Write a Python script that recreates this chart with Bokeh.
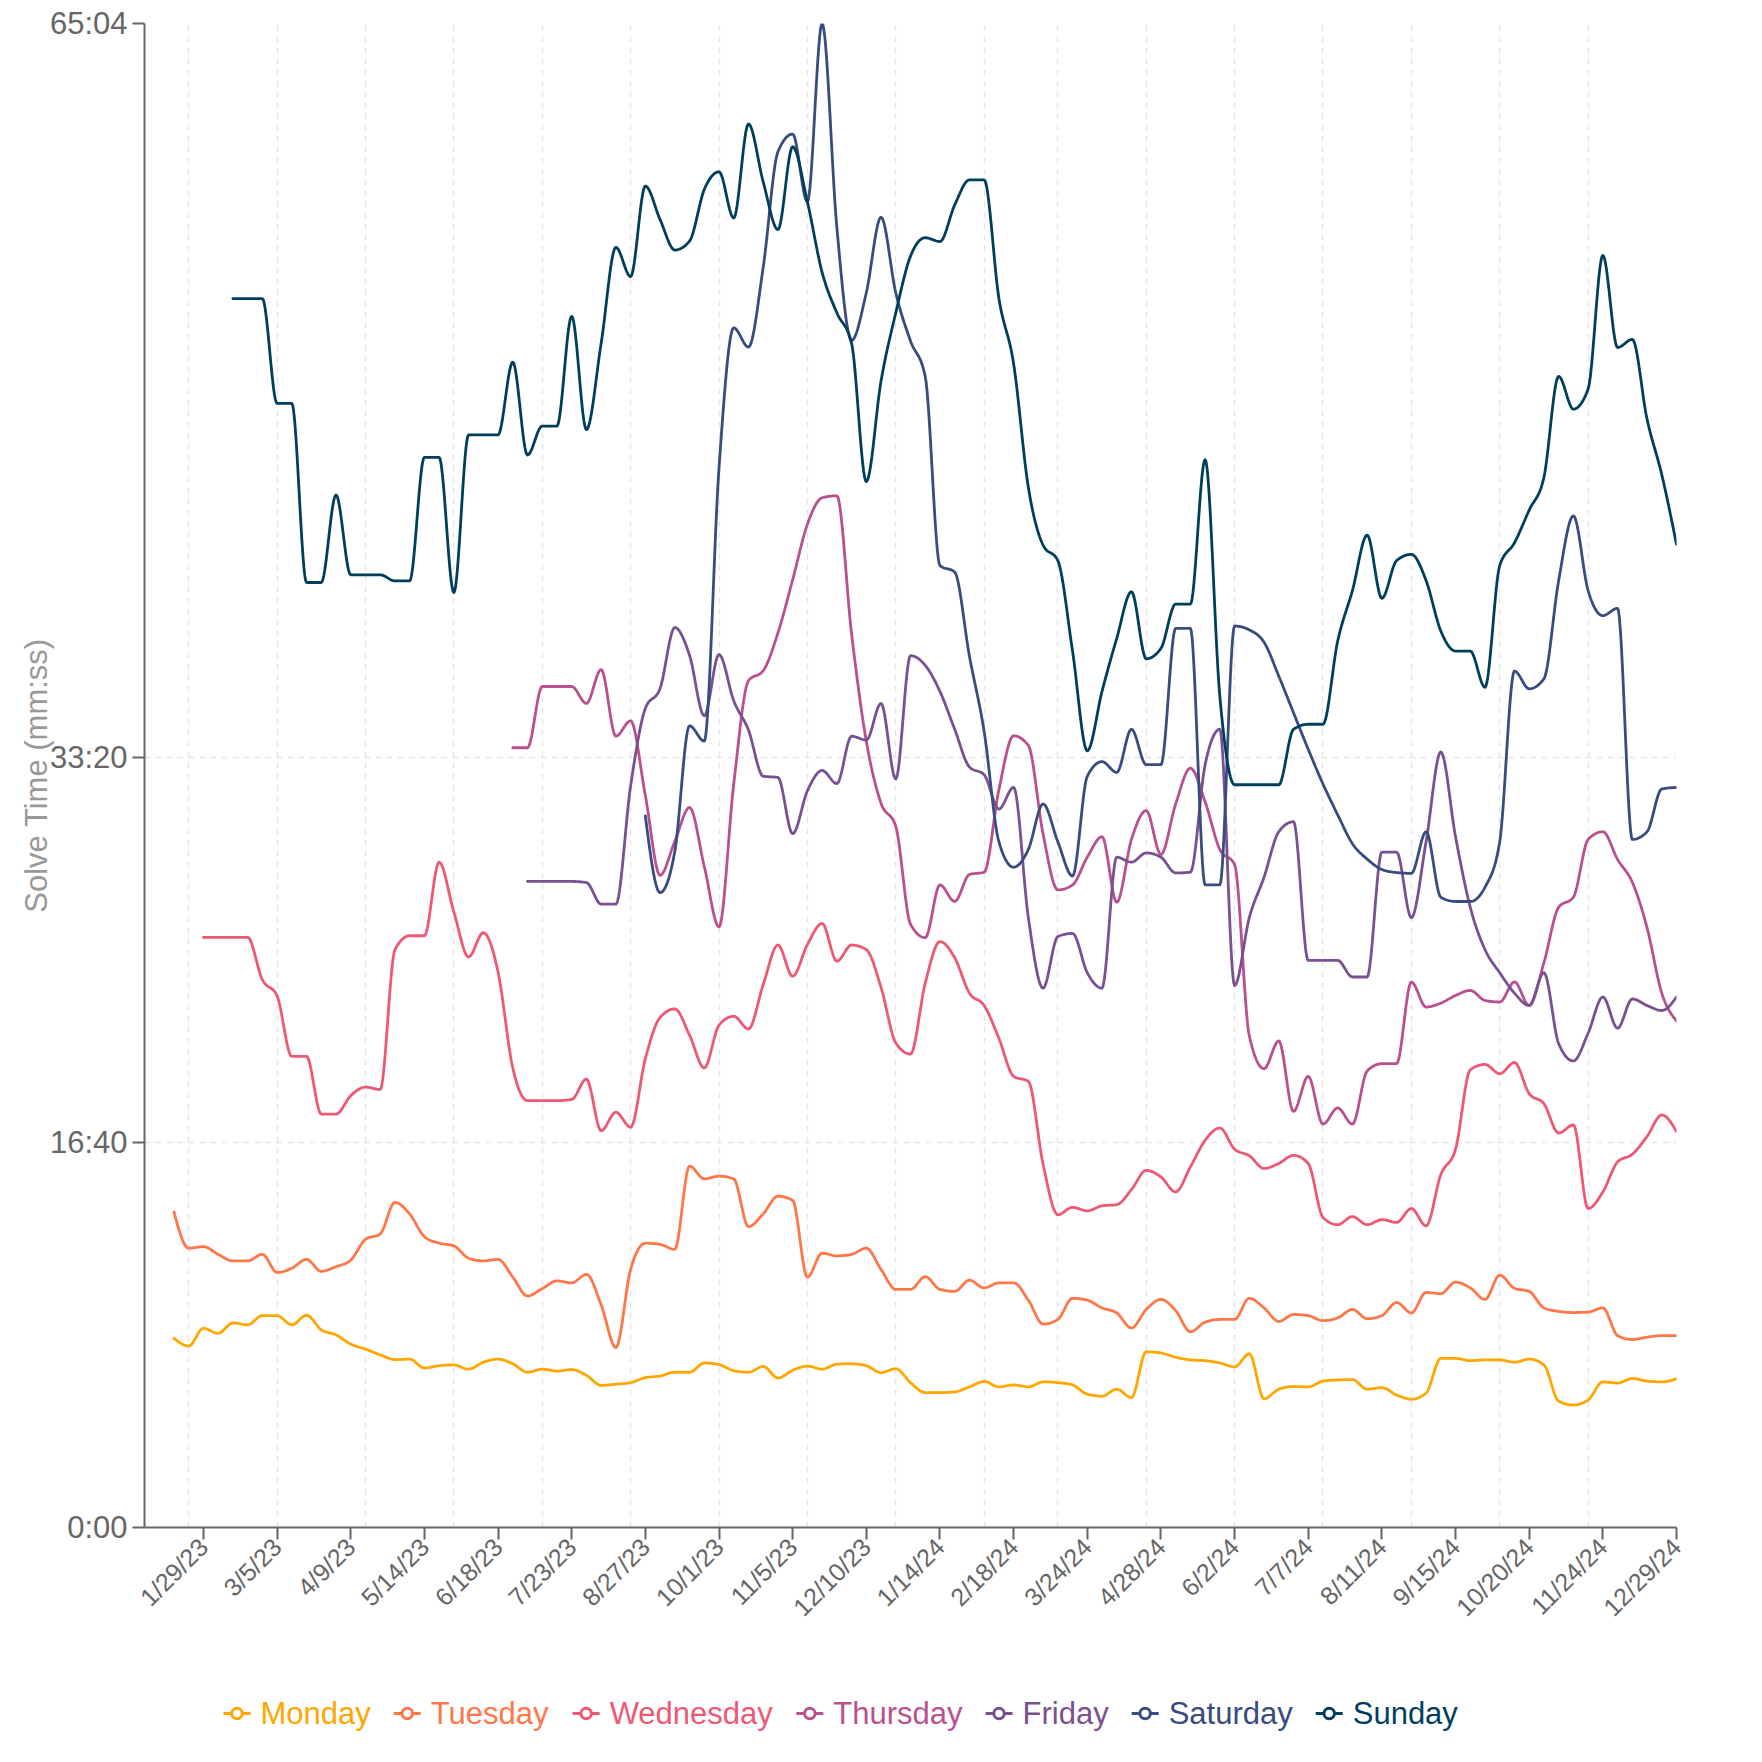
import numpy as np
import pandas as pd
from bokeh.plotting import figure
from bokeh.layouts import column
from bokeh.models import FixedTicker, Range1d
from bokeh.core.properties import value
from bokeh.embed import file_html
from bokeh.resources import INLINE

# ---------------- data (seconds) ----------------
DATES = pd.date_range("2023-01-15", "2024-12-29", freq="7D")  # weekly (Sundays)
N = None

MONDAY = [491, 471, 517, 504, 531, 526, 550, 550, 526, 551, 513, 500, 476, 463, 448, 436, 437, 414, 420, 422,
          411, 429, 437, 425, 403, 411, 406, 410, 395, 369, 372, 376, 389, 393, 403, 403, 427, 423, 407, 403,
          418, 388, 408, 419, 411, 424, 425, 420, 402, 412, 376, 350, 350, 352, 365, 379, 365, 370, 365, 378,
          376, 370, 346, 341, 359, 337, 456, 453, 442, 435, 433, 427, 417, 451, 334, 359, 366, 365, 380, 383,
          384, 359, 363, 344, 333, 349, 439, 439, 433, 435, 435, 429, 437, 422, 328, 318, 331, 378, 375, 387,
          380, 378, 386]

TUESDAY = [819, 725, 729, 709, 692, 692, 709, 662, 673, 696, 665, 677, 694, 748, 762, 844, 814, 755, 738, 731,
           699, 692, 696, 650, 601, 620, 640, 635, 657, 578, 467, 670, 738, 735, 722, 938, 905, 912, 905, 781,
           814, 860, 849, 650, 712, 705, 709, 725, 670, 618, 618, 651, 618, 613, 642, 622, 635, 635, 590, 528,
           540, 595, 590, 570, 557, 518, 566, 592, 563, 508, 533, 540, 540, 595, 570, 535, 553, 550, 537, 544,
           566, 542, 550, 584, 557, 610, 607, 637, 622, 592, 655, 621, 613, 570, 561, 558, 559, 570, 498, 488,
           494, 498, 498]

WEDNESDAY = [N, N, 1532, 1532, 1532, 1532, 1422, 1380, 1223, 1223, 1073, 1073, 1121, 1143, 1137, 1500, 1536, 1536, 1727, 1598,
             1481, 1544, 1442, 1193, 1108, 1108, 1108, 1111, 1164, 1030, 1078, 1039, 1217, 1324, 1346, 1278, 1193, 1304, 1327, 1294,
             1409, 1512, 1431, 1513, 1568, 1470, 1512, 1500, 1402, 1258, 1229, 1413, 1521, 1479, 1387, 1355, 1270, 1171, 1158, 943,
             812, 831, 822, 835, 838, 877, 927, 910, 871, 936, 1005, 1037, 982, 965, 932, 945, 966, 945, 805, 786,
             807, 786, 799, 792, 828, 783, 916, 982, 1188, 1202, 1178, 1207, 1126, 1100, 1024, 1045, 828, 871, 949, 969,
             1015, 1071, 1028]

THURSDAY = [N, N, N, N, N, N, N, N, N, N, N, N, N, N, N, N, N, N, N, N,
            N, N, N, 2024, 2024, 2183, 2183, 2183, 2139, 2227, 2054, 2094, 1900, 1693, 1781, 1869, 1716, 1559, 1930, 2198,
            2224, 2322, 2460, 2604, 2673, 2678, 2320, 2041, 1880, 1820, 1566, 1531, 1668, 1625, 1695, 1701, 1915, 2055, 2030, 1800,
            1655, 1668, 1740, 1793, 1623, 1786, 1861, 1747, 1878, 1971, 1884, 1760, 1721, 1276, 1191, 1263, 1080, 1171, 1047, 1089,
            1047, 1185, 1204, 1204, 1416, 1351, 1361, 1381, 1394, 1368, 1364, 1416, 1355, 1466, 1610, 1636, 1786, 1806, 1734, 1675,
            1557, 1387, 1315]

FRIDAY = [N, N, N, N, N, N, N, N, N, N, N, N, N, N, N, N, N, N, N, N,
          N, N, N, N, 1677, 1677, 1677, 1677, 1674, 1618, 1618, 1925, 2126, 2178, 2336, 2264, 2107, 2266, 2146, 2070,
          1950, 1947, 1801, 1912, 1965, 1931, 2054, 2044, 2139, 1943, 2263, 2238, 2170, 2072, 1974, 1954, 1865, 1921, 1583, 1400,
          1534, 1542, 1440, 1400, 1740, 1727, 1751, 1740, 1699, 1701, 1980, 2072, 1407, 1583, 1688, 1806, 1832, 1472, 1472, 1472,
          1429, 1429, 1753, 1753, 1583, 1780, 2013, 1793, 1610, 1500, 1440, 1387, 1355, 1440, 1256, 1211, 1283, 1377, 1296, 1372,
          1355, 1342, 1377]

SATURDAY = [N, N, N, N, N, N, N, N, N, N, N, N, N, N, N, N, N, N, N, N,
            N, N, N, N, N, N, N, N, N, N, N, N, 1847, 1648, 1755, 2081, 2041, 2750, 3114, 3064,
            3271, 3571, 3617, 3441, 3904, 3375, 3081, 3205, 3401, 3205, 3080, 2988, 2497, 2480, 2262, 2066, 1780, 1714, 1760, 1878,
            1780, 1691, 1950, 1988, 1960, 2072, 1980, 1980, 2334, 2334, 1668, 1668, 2340, 2330, 2298, 2210, 2115, 2020, 1930, 1850,
            1775, 1735, 1708, 1700, 1698, 1806, 1636, 1625, 1625, 1662, 1780, 2223, 2177, 2203, 2458, 2626, 2432, 2367, 2386, 1786,
            1806, 1917, 1921]

SUNDAY = [N, N, N, N, 3190, 3190, 3190, 2918, 2918, 2453, 2453, 2680, 2473, 2473, 2473, 2457, 2457, 2778, 2778, 2427,
          2836, 2836, 2836, 3025, 2784, 2859, 2859, 3144, 2850, 3074, 3323, 3247, 3482, 3395, 3316, 3339, 3473, 3519, 3399, 3643,
          3493, 3369, 3584, 3441, 3258, 3153, 3074, 2715, 2976, 3153, 3300, 3348, 3338, 3433, 3498, 3498, 3191, 3021, 2700, 2550,
          2510, 2275, 2016, 2170, 2308, 2429, 2255, 2282, 2397, 2397, 2772, 2157, 1928, 1928, 1928, 1928, 2072, 2085, 2085, 2301,
          2432, 2576, 2412, 2510, 2526, 2458, 2327, 2275, 2275, 2181, 2497, 2556, 2641, 2726, 2988, 2903, 2955, 3302, 3063, 3084,
          2877, 2733, 2552]

SERIES_NAMES = ["Monday", "Tuesday", "Wednesday", "Thursday", "Friday", "Saturday", "Sunday"]
SERIES_VALUES = [MONDAY, TUESDAY, WEDNESDAY, THURSDAY, FRIDAY, SATURDAY, SUNDAY]
COLORS = ["#ffa600", "#fe7749", "#ed5974", "#ba508e", "#795192", "#384c80", "#003f5c"]

X_START = "2023-01-01"
TICK_DATES = pd.date_range("2023-01-29", "2024-12-29", freq="35D")
GRID_DATES = list(pd.date_range("2023-01-22", "2024-02-04", freq="42D")) + \
             list(pd.date_range("2024-03-10", "2024-12-29", freq="42D"))
Y_TICKS = [0, 1000, 2000]

# ---------------- helpers ----------------
EPOCH = pd.Timestamp("1970-01-01")


def to_day(d):
    return int((pd.Timestamp(d) - EPOCH).days)


def mmss(s):
    s = int(round(s))
    return f"{s // 60}:{s % 60:02d}"


def monotone_x(xs, ys, samples=18):
    """d3.curveMonotoneX rendered as a dense polyline."""
    xs = np.asarray(xs, float)
    ys = np.asarray(ys, float)
    n = len(xs)
    if n < 3:
        return xs, ys
    h = np.diff(xs)
    s = np.diff(ys) / h
    t = np.zeros(n)
    for i in range(1, n - 1):
        p = (s[i - 1] * h[i] + s[i] * h[i - 1]) / (h[i - 1] + h[i])
        sg = (1 if s[i - 1] >= 0 else -1) + (1 if s[i] >= 0 else -1)
        t[i] = sg * min(abs(s[i - 1]), abs(s[i]), 0.5 * abs(p))
    t[0] = (3 * s[0] - t[1]) / 2
    t[-1] = (3 * s[-1] - t[-2]) / 2
    u = np.linspace(0, 1, samples)[:-1]
    ox, oy = [], []
    for i in range(n - 1):
        x0, x1, y0, y1 = xs[i], xs[i + 1], ys[i], ys[i + 1]
        dx = (x1 - x0) / 3
        px = [x0, x0 + dx, x1 - dx, x1]
        py = [y0, y0 + dx * t[i], y1 - dx * t[i + 1], y1]
        b0, b1, b2, b3 = (1 - u) ** 3, 3 * (1 - u) ** 2 * u, 3 * (1 - u) * u ** 2, u ** 3
        ox.extend(b0 * px[0] + b1 * px[1] + b2 * px[2] + b3 * px[3])
        oy.extend(b0 * py[0] + b1 * py[1] + b2 * py[2] + b3 * py[3])
    ox.append(xs[-1])
    oy.append(ys[-1])
    return np.array(ox), np.array(oy)


x_days = [to_day(d) for d in DATES]
y_max = max(v for ser in SERIES_VALUES for v in ser if v is not None)

FONT = "Liberation Sans"
W = 1746
BL, BR, BT = 144, 70, 23          # frame borders (px)
FRAME_L, FRAME_R = BL, W - BR
LW = 2.8

p = figure(width=W, height=1650, output_backend="svg", toolbar_location=None, tools="",
           x_range=Range1d(to_day(X_START), x_days[-1]), y_range=Range1d(0, y_max),
           min_border_left=BL, min_border_right=BR, min_border_top=BT, min_border_bottom=123)
p.outline_line_color = None
p.background_fill_color = "white"
p.border_fill_color = "white"

for name, vals, col in zip(SERIES_NAMES, SERIES_VALUES, COLORS):
    xs = [x for x, v in zip(x_days, vals) if v is not None]
    ys = [v for v in vals if v is not None]
    sx, sy = monotone_x(xs, ys)
    p.line(sx, sy, line_color=col, line_width=LW, line_join="round", line_cap="round")

# x axis
tick_days = [to_day(d) for d in TICK_DATES]
p.xaxis.ticker = FixedTicker(ticks=tick_days)
p.xaxis.major_label_overrides = {to_day(d): f"{d.month}/{d.day}/{d.year % 100:02d}" for d in TICK_DATES}
p.xaxis.major_label_orientation = np.pi / 4
p.xaxis.major_label_text_font_size = "25px"
p.xaxis.major_label_standoff = 3
# y axis
y_ticks = Y_TICKS + [y_max]
p.yaxis.ticker = FixedTicker(ticks=y_ticks)
p.yaxis.major_label_overrides = {t: mmss(t) for t in y_ticks}
p.yaxis.major_label_text_font_size = "31px"
p.yaxis.major_label_standoff = 5
p.yaxis.axis_label = "Solve Time (mm:ss)"
p.yaxis.axis_label_text_font_size = "31px"
p.yaxis.axis_label_text_font_style = "normal"
p.yaxis.axis_label_text_color = "#999999"
p.yaxis.axis_label_text_font = FONT
p.yaxis.axis_label_standoff = -7

for ax in (p.xaxis, p.yaxis):
    ax.axis_line_color = "#666666"
    ax.axis_line_width = 2
    ax.major_tick_line_color = "#666666"
    ax.major_tick_line_width = 2
    ax.major_tick_out = 12
    ax.major_tick_in = 0
    ax.minor_tick_line_color = None
    ax.major_label_text_color = "#666666"
    ax.major_label_text_font = FONT

p.xgrid.ticker = FixedTicker(ticks=[to_day(d) for d in GRID_DATES])
p.ygrid.ticker = FixedTicker(ticks=y_ticks)
for g in (p.xgrid, p.ygrid):
    g.grid_line_color = "#e6e6e6"
    g.grid_line_width = 1.5
    g.grid_line_dash = "6 5"

# ---------------- legend (separate strip, x in page pixels) ----------------
CHAR_W = {"M": .833, "o": .556, "n": .556, "d": .556, "a": .556, "y": .5, "T": .611, "u": .556, "e": .556,
          "s": .5, "W": .944, "h": .556, "r": .333, "F": .611, "i": .222, "S": .667, "t": .278}
LEG_FS = 31
MARK_W, MARK_GAP, ITEM_GAP = 27, 10, 23
LEG_X0, LEG_H, LEG_Y = 223, 100, 37

lp = figure(width=W, height=LEG_H, output_backend="svg", toolbar_location=None, tools="",
            x_range=Range1d(FRAME_L, FRAME_R), y_range=Range1d(0, LEG_H),
            min_border_left=BL, min_border_right=BR, min_border_top=0, min_border_bottom=0,
            x_axis_location=None, y_axis_location=None)
lp.outline_line_color = None
lp.grid.visible = False

seg_x0, seg_x1, cx, tx = [], [], [], []
xpos = LEG_X0
for name in SERIES_NAMES:
    seg_x0.append(xpos)
    seg_x1.append(xpos + MARK_W)
    cx.append(xpos + MARK_W / 2)
    tx.append(xpos + MARK_W + MARK_GAP)
    tw = sum(CHAR_W.get(c, .556) for c in name) * LEG_FS
    xpos += MARK_W + MARK_GAP + tw + ITEM_GAP

ly = [LEG_Y] * len(SERIES_NAMES)
lp.segment(x0=seg_x0, y0=ly, x1=seg_x1, y1=ly, line_color=COLORS, line_width=3)
lp.scatter(x=cx, y=ly, size=10.5, marker="circle", fill_color="white", line_color=COLORS, line_width=3)
lp.text(x=tx, y=ly, text=SERIES_NAMES, text_color=COLORS, text_font=value(FONT),
        text_font_size=value(f"{LEG_FS}px"), text_baseline="middle", text_align="left")

layout = column(p, lp, spacing=0)
open("out.html", "w").write(file_html(layout, INLINE))
